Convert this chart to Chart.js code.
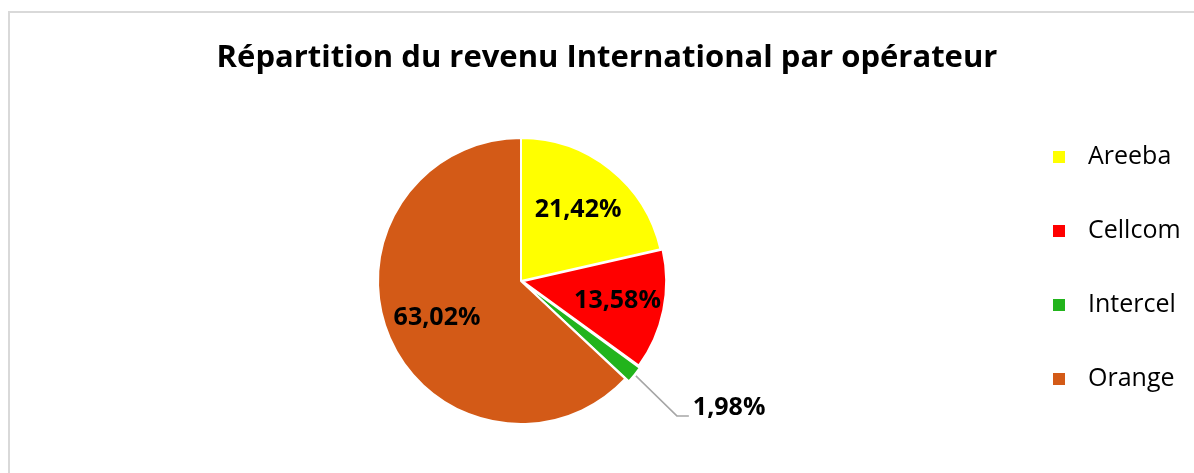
<!DOCTYPE html>
<html>
<head>
<meta charset="utf-8">
<script src="https://cdn.jsdelivr.net/npm/chart.js@4.4.1/dist/chart.umd.min.js"></script>
<style>
    body { margin: 0; background: #fff; }
    .wrap { position: relative; width: 1194px; height: 473px; }
    .frame {
        position: absolute; left: 8px; top: 11px; right: 0; bottom: 0;
        border-left: 2px solid #d9d9d9; border-top: 2px solid #d9d9d9;
    }
    canvas { position: absolute; left: 0; top: 0; }
</style>
</head>
<body>
<div class="wrap">
    <div class="frame"></div>
    <canvas id="pieChart" width="1194" height="473"></canvas>
</div>
<script>
const titleText = "Répartition du revenu International par opérateur";
const operators = ["Areeba", "Cellcom", "Intercel", "Orange"];
const shares = [21.42, 13.58, 1.98, 63.02];
const sliceColors = ["#ffff00", "#ff0000", "#22b41c", "#d35a17"];

const fontName = "'Open Sans', sans-serif";

function fmt(v) {
    return v.toFixed(2).replace('.', ',') + '%';
}

/* Title, legend and data labels */
const decorPlugin = {
    id: 'decor',
    afterDraw(chart) {
        const ctx = chart.ctx;
        ctx.save();

        // title
        ctx.fillStyle = '#000';
        ctx.font = 'bold 31px ' + fontName;
        ctx.textAlign = 'center';
        ctx.textBaseline = 'alphabetic';
        ctx.fillText(titleText, 607, 67);

        // legend on the right
        ctx.font = '25px ' + fontName;
        ctx.textAlign = 'left';
        ctx.textBaseline = 'middle';
        operators.forEach((name, i) => {
            const y = 157 + i * 74;
            ctx.fillStyle = sliceColors[i];
            ctx.fillRect(1053, y - 6, 12, 12);
            ctx.fillStyle = '#000';
            ctx.fillText(name, 1088, y);
        });

        // percentage labels
        const meta = chart.getDatasetMeta(0);
        ctx.font = 'bold 25px ' + fontName;
        meta.data.forEach((arc, i) => {
            const p = arc.getProps(['x', 'y', 'startAngle', 'endAngle', 'outerRadius', 'options']);
            const mid = (p.startAngle + p.endAngle) / 2;
            const off = p.options.offset || 0;
            const cx = p.x + Math.cos(mid) * off;
            const cy = p.y + Math.sin(mid) * off;
            ctx.fillStyle = '#000';
            if (shares[i] < 5) {
                // small slice: label outside with a leader line
                const sx = cx + Math.cos(mid) * (p.outerRadius - 3);
                const sy = cy + Math.sin(mid) * (p.outerRadius - 3);
                const ex = sx + 41;
                const ey = sy + 40;
                ctx.strokeStyle = '#a6a6a6';
                ctx.lineWidth = 1.5;
                ctx.beginPath();
                ctx.moveTo(sx, sy);
                ctx.lineTo(ex, ey);
                ctx.lineTo(ex + 12, ey);
                ctx.stroke();
                ctx.textAlign = 'left';
                ctx.fillText(fmt(shares[i]), ex + 16, ey - 8);
            } else {
                const r = p.outerRadius * 0.64;
                ctx.textAlign = 'center';
                ctx.fillText(fmt(shares[i]), cx + Math.cos(mid) * r, cy + Math.sin(mid) * r);
            }
        });
        ctx.restore();
    }
};

new Chart(document.getElementById('pieChart'), {
    type: 'pie',
    data: {
        labels: operators,
        datasets: [{
            data: shares,
            backgroundColor: sliceColors,
            borderColor: '#ffffff',
            borderWidth: 2,
            offset: [0, 7, 9, 0],
            radius: 143
        }]
    },
    options: {
        responsive: false,
        animation: false,
        layout: {
            padding: { left: 378, right: 530, top: 138, bottom: 49 }
        },
        plugins: {
            legend: { display: false },
            title: { display: false },
            tooltip: { enabled: false }
        }
    },
    plugins: [decorPlugin]
});
</script>
</body>
</html>
